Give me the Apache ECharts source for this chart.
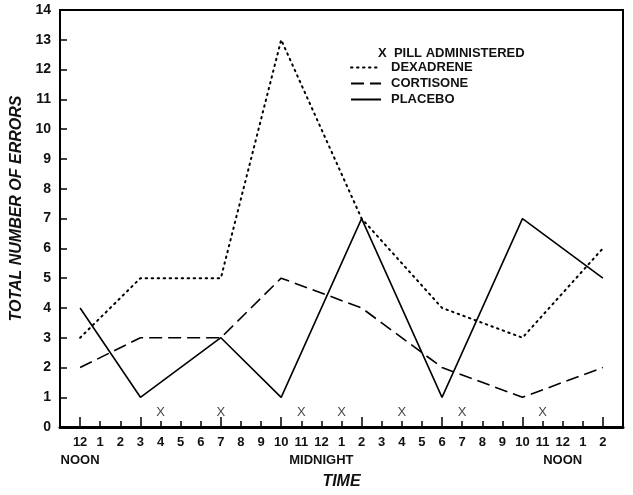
<!DOCTYPE html>
<html>
<head>
<meta charset="utf-8">
<script src="https://cdn.jsdelivr.net/npm/echarts@6/dist/echarts.min.js"></script>
<style>
  html, body { margin: 0; padding: 0; background: #fff; }
  #chart { width: 633px; height: 495px; }
</style>
</head>
<body>
<div id="chart"></div>
<script>
// hour labels along the bottom, noon to 2 pm next day
var hourLabels = ['12','1','2','3','4','5','6','7','8','9','10','11','12','1','2','3','4','5','6','7','8','9','10','11','12','1','2'];
var periodIdx = [0, 12, 24];
var periodNames = ['NOON', 'MIDNIGHT', 'NOON'];

// test times (index into hourLabels) and errors per drug
var testHours = [0, 3, 7, 10, 14, 18, 22, 26];
var dexadrene = [3, 5, 5, 13, 7, 4, 3, 6];
var cortisone = [2, 3, 3, 5, 4, 2, 1, 2];
var placebo = [4, 1, 3, 1, 7, 1, 7, 5];

// when the pill was given
var pillHours = [4, 7, 11, 13, 16, 19, 23];
var pillLevel = 0.5;

var FONT = '"Liberation Sans", Arial, sans-serif';

function pairs(xs, ys) {
    var out = [];
    for (var i = 0; i < xs.length; i++) {
        out.push([xs[i], ys[i]]);
    }
    return out;
}

function hourLabel(v) {
    if (v < 0 || v >= hourLabels.length) return '';
    var p = periodIdx.indexOf(v);
    if (p >= 0) return hourLabels[v] + '\n' + periodNames[p];
    return hourLabels[v];
}

var chart = echarts.init(document.getElementById('chart'));

var option = {
    backgroundColor: '#fff',
    animation: false,
    grid: {
        left: 60, right: 10, top: 10, bottom: 62,
        show: true, borderColor: '#000', borderWidth: 2
    },
    legend: [
        {
            data: [{ name: 'PILL', icon: 'none' }],
            formatter: function () { return 'X  PILL ADMINISTERED'; },
            left: 368, top: 42,
            itemWidth: 0, itemHeight: 12,
            selectedMode: false,
            textStyle: { fontFamily: FONT, fontSize: 13, fontWeight: 'bold', color: '#111' }
        },
        {
            data: ['DEXADRENE', 'CORTISONE', 'PLACEBO'],
            orient: 'vertical',
            left: 345, top: 56,
            itemWidth: 30, itemHeight: 12, itemGap: 3,
            selectedMode: false,
            itemStyle: { opacity: 0 },
            textStyle: { fontFamily: FONT, fontSize: 13, fontWeight: 'bold', color: '#111', padding: [0, 0, 0, 5] }
        }
    ],
    xAxis: [
        {
            type: 'value',
            min: -1, max: 27, interval: 1,
            name: 'TIME',
            nameLocation: 'middle',
            nameGap: 44,
            nameTextStyle: {
                fontFamily: FONT, fontSize: 16, fontWeight: 'bold', fontStyle: 'italic', color: '#111'
            },
            axisLine: { onZero: false, lineStyle: { color: '#000', width: 3 } },
            axisTick: { inside: true, length: 6, lineStyle: { color: '#000', width: 1.5 } },
            axisLabel: {
                formatter: hourLabel,
                fontFamily: FONT, fontSize: 13, fontWeight: 'bold', color: '#111',
                lineHeight: 18, margin: 6
            },
            splitLine: { show: false }
        },
        {
            // longer ticks at the test times
            type: 'value',
            position: 'bottom',
            min: -1, max: 27,
            axisLine: { show: false, onZero: false },
            axisTick: { inside: true, length: 10, customValues: testHours, lineStyle: { color: '#000', width: 1.5 } },
            axisLabel: { show: false },
            splitLine: { show: false }
        }
    ],
    yAxis: {
        type: 'value',
        min: 0, max: 14, interval: 1,
        name: 'TOTAL NUMBER OF ERRORS',
        nameLocation: 'middle',
        nameGap: 32,
        nameTextStyle: {
            fontFamily: FONT, fontSize: 16, fontWeight: 'bold', fontStyle: 'italic',
            color: '#111', padding: [0, 0, 0, 20]
        },
        axisLine: { onZero: false, lineStyle: { color: '#000', width: 2 } },
        axisTick: { inside: true, length: 7, lineStyle: { color: '#000', width: 1.5 } },
        axisLabel: { fontFamily: FONT, fontSize: 14, fontWeight: 'bold', color: '#111', margin: 9 },
        splitLine: { show: false }
    },
    series: [
        {
            name: 'DEXADRENE', type: 'line', symbol: 'none',
            data: pairs(testHours, dexadrene),
            lineStyle: { color: '#000', width: 2, type: [1.5, 4.5], cap: 'round' },
            itemStyle: { color: '#000' }
        },
        {
            name: 'CORTISONE', type: 'line', symbol: 'none',
            data: pairs(testHours, cortisone),
            lineStyle: { color: '#000', width: 1.6, type: [13, 6] },
            itemStyle: { color: '#000' }
        },
        {
            name: 'PLACEBO', type: 'line', symbol: 'none',
            data: pairs(testHours, placebo),
            lineStyle: { color: '#000', width: 1.6, type: 'solid' },
            itemStyle: { color: '#000' }
        },
        {
            name: 'PILL', type: 'scatter',
            symbolSize: 0,
            data: pillHours.map(function (h) { return [h, pillLevel]; }),
            label: {
                show: true, position: 'inside', formatter: 'X',
                fontFamily: FONT, fontSize: 13, color: '#111'
            },
            itemStyle: { color: '#000' }
        }
    ]
};

chart.setOption(option);
</script>
</body>
</html>
